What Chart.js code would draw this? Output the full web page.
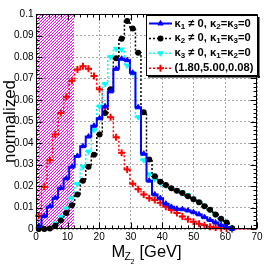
<!DOCTYPE html>
<html>
<head>
<meta charset="utf-8">
<script src="https://cdn.jsdelivr.net/npm/chart.js@4.4.0/dist/chart.umd.min.js"></script>
<style>
html, body { margin: 0; padding: 0; background: #fff; }
</style>
</head>
<body>
<canvas id="c" width="273" height="264"></canvas>
<script>
// bin centres, GeV (40 bins of 1.75 GeV)
let bins = [0.875, 2.625, 4.375, 6.125, 7.875, 9.625, 11.375, 13.125, 14.875, 16.625,
            18.375, 20.125, 21.875, 23.625, 25.375, 27.125, 28.875, 30.625, 32.375, 34.125,
            35.875, 37.625, 39.375, 41.125, 42.875, 44.625, 46.375, 48.125, 49.875, 51.625,
            53.375, 55.125, 56.875, 58.625, 60.375, 62.125, 63.875, 65.625, 67.375, 69.125];

// kappa1 != 0 (blue, solid)
let kappa1 = [0.0015, 0.006, 0.0105, 0.0145, 0.019, 0.0235, 0.029, 0.034, 0.0385, 0.043,
              0.048, 0.0515, 0.057, 0.064, 0.0745, 0.0792, 0.0785, 0.0727, 0.0566, 0.035,
              0.0225, 0.0161, 0.0143, 0.0118, 0.0103, 0.0094, 0.0092, 0.0086, 0.0078, 0.0068,
              0.0055, 0.0042, 0.003, 0.0018, 0.0008, 0.0001];
// kappa2 != 0 (black, dotted)
let kappa2 = [0, 0, 0.0002, 0.0015, 0.004, 0.0075, 0.011, 0.016, 0.0225, 0.029,
              0.0345, 0.044, 0.054, 0.065, 0.0794, 0.0885, 0.0967, 0.0933, 0.082, 0.0543,
              0.0323, 0.0245, 0.022, 0.0205, 0.019, 0.0178, 0.0167, 0.0152, 0.0138, 0.0124,
              0.0106, 0.009, 0.0068, 0.0048, 0.003, 0.0004];
// kappa3 != 0 (cyan, dotted)
let kappa3 = [0, 0, 0.0005, 0.0025, 0.0055, 0.0095, 0.0145, 0.021, 0.029, 0.036,
              0.046, 0.057, 0.0675, 0.08, 0.0838, 0.0835, 0.076, 0.0725, 0.052, 0.032,
              0.0255, 0.0232, 0.0215, 0.0202, 0.019, 0.018, 0.0171, 0.0157, 0.0142, 0.0125,
              0.0108, 0.0088, 0.0065, 0.0042, 0.0022, 0.0003];
// (1.80,5.00,0.08) benchmark (red, dotted)
let bench = [0.0062, 0.0197, 0.032, 0.044, 0.054, 0.0615, 0.069, 0.0742, 0.0757, 0.0745,
             0.0712, 0.065, 0.0566, 0.052, 0.0427, 0.0355, 0.0277, 0.021, 0.0185, 0.016,
             0.0143, 0.0135, 0.0122, 0.0104, 0.0088, 0.0074, 0.0058, 0.0045, 0.0034, 0.0025,
             0.0017, 0.0011, 0.0007, 0.0004, 0.0002, 0, 0, 0, 0, 0];

let xTicks = [0, 10, 20, 30, 40, 50, 60, 70];
let yTicks = [0, 0.01, 0.02, 0.03, 0.04, 0.05, 0.06, 0.07, 0.08, 0.09, 0.1];
let yTickLabels = ['0', '0.01', '0.02', '0.03', '0.04', '0.05', '0.06', '0.07', '0.08', '0.09', '0.1'];
let hatchMax = 12; // GeV, shaded region

// legend text pieces, 's' = subscript
let legendText = [
    [['κ'], ['1', 's'], [' ≠ 0, κ'], ['2', 's'], ['=κ'], ['3', 's'], ['=0']],
    [['κ'], ['2', 's'], [' ≠ 0, κ'], ['1', 's'], ['=κ'], ['3', 's'], ['=0']],
    [['κ'], ['3', 's'], [' ≠ 0, κ'], ['1', 's'], ['=κ'], ['2', 's'], ['=0']],
    [['(1.80,5.00,0.08)']]
];

let FONT = '"Liberation Sans", Arial, Helvetica, sans-serif';

function pts(vals) {
    return vals.map((v, i) => ({x: bins[i], y: v}));
}

let sets = [
    {data: pts(kappa1), borderColor: '#0000ff', backgroundColor: '#0000ff', borderWidth: 2,
     pointStyle: 'triangle', pointRadius: 3, pointBorderWidth: 1},
    {data: pts(kappa2), borderColor: '#000000', backgroundColor: '#000000', borderWidth: 1.5,
     borderDash: [2, 2], pointStyle: 'circle', pointRadius: 3, pointBorderWidth: 0},
    {data: pts(kappa3), borderColor: '#00ffff', backgroundColor: '#00ffff', borderWidth: 1.5,
     borderDash: [2, 2], pointStyle: 'triangle', pointRotation: 180, pointRadius: 3, pointBorderWidth: 1},
    {data: pts(bench), borderColor: '#ff0000', backgroundColor: '#ff0000', borderWidth: 1.5,
     borderDash: [2, 2], pointStyle: 'cross', pointBorderWidth: 2,
     pointRadius: (c) => c.dataIndex > 35 ? 0 : 3.5}
];
sets.forEach(s => { s.stepped = 'middle'; s.fill = false; s.clip = false; });

function rich(ctx, parts, x, y, size) {
    for (let p of parts) {
        let sub = p[1] === 's';
        ctx.font = 'bold ' + (sub ? Math.round(size * 0.68) : size) + 'px ' + FONT;
        ctx.fillText(p[0], x, y + (sub ? size * 0.25 : 0));
        x += ctx.measureText(p[0]).width;
    }
}

let rootFrame = {
    id: 'rootFrame',
    beforeDatasetsDraw(chart) {
        // magenta hatched band 0..hatchMax
        let ctx = chart.ctx, a = chart.chartArea, x = chart.scales.x;
        let x0 = x.getPixelForValue(0), x1 = x.getPixelForValue(hatchMax);
        let h = a.bottom - a.top;
        ctx.save();
        ctx.beginPath();
        ctx.rect(x0, a.top, x1 - x0, h);
        ctx.clip();
        ctx.strokeStyle = '#ff00ff';
        ctx.lineWidth = 1;
        ctx.beginPath();
        for (let d = -h; d < x1 - x0 + h; d += 3) {
            ctx.moveTo(x0 + d, a.bottom);
            ctx.lineTo(x0 + d + h, a.top);
        }
        ctx.stroke();
        ctx.restore();
    },
    afterDraw(chart) {
        let ctx = chart.ctx, a = chart.chartArea, xs = chart.scales.x, ys = chart.scales.y;
        ctx.save();
        ctx.strokeStyle = '#000';
        ctx.lineWidth = 1;
        let L = Math.round(a.left) + 0.5, R = Math.round(a.right) - 0.5;
        let T = Math.round(a.top) + 0.5, B = Math.round(a.bottom) - 0.5;
        ctx.strokeRect(L, T, R - L, B - T);

        // ticks on all four sides
        ctx.beginPath();
        for (let v = 0; v <= 70.001; v += 2) {
            let px = Math.round(xs.getPixelForValue(v)) + 0.5;
            let len = (v % 10 === 0) ? 6 : 3;
            ctx.moveTo(px, B); ctx.lineTo(px, B - len);
            ctx.moveTo(px, T); ctx.lineTo(px, T + len);
        }
        for (let i = 0; i <= 50; i++) {
            let py = Math.round(ys.getPixelForValue(i * 0.002)) + 0.5;
            let len = (i % 5 === 0) ? 6 : 3;
            ctx.moveTo(L, py); ctx.lineTo(L + len, py);
            ctx.moveTo(R, py); ctx.lineTo(R - len, py);
        }
        ctx.stroke();

        // tick labels
        ctx.fillStyle = '#000';
        ctx.font = '10px ' + FONT;
        ctx.textAlign = 'right';
        ctx.textBaseline = 'middle';
        yTicks.forEach((v, i) => ctx.fillText(yTickLabels[i], a.left - 2.5, ys.getPixelForValue(v)));
        ctx.textAlign = 'center';
        ctx.textBaseline = 'top';
        xTicks.forEach(v => ctx.fillText(String(v), xs.getPixelForValue(v), 232));

        // x title with nested subscripts
        ctx.textAlign = 'left';
        ctx.textBaseline = 'alphabetic';
        ctx.font = '16.5px ' + FONT;
        ctx.fillText('M', 111.5, 256.5);
        ctx.font = '10.5px ' + FONT;
        ctx.fillText('Z', 124.5, 259.5);
        ctx.font = '7px ' + FONT;
        ctx.fillText('2', 130.5, 264);
        ctx.font = '16.5px ' + FONT;
        ctx.fillText('[GeV]', 139.5, 256.5);

        // legend box
        let bx = 146, by = 15, bw = 112, bh = 61;
        ctx.fillStyle = '#000';
        ctx.fillRect(bx + 2, by + bh, bw, 1.5);
        ctx.fillRect(bx + bw, by + 2, 1.5, bh);
        ctx.fillStyle = '#fff';
        ctx.fillRect(bx, by, bw, bh);
        ctx.strokeRect(bx + 0.5, by + 0.5, bw - 1, bh - 1);

        sets.forEach((s, i) => {
            let cy = 23.5 + i * 14.9;
            ctx.save();
            ctx.strokeStyle = s.borderColor;
            ctx.lineWidth = s.borderWidth;
            ctx.setLineDash(s.borderDash || []);
            ctx.beginPath();
            ctx.moveTo(149, cy); ctx.lineTo(172, cy);
            ctx.stroke();
            ctx.setLineDash([]);
            ctx.fillStyle = s.backgroundColor;
            ctx.strokeStyle = s.borderColor;
            ctx.lineWidth = s.pointBorderWidth;
            Chart.helpers.drawPoint(ctx, {
                pointStyle: s.pointStyle, rotation: s.pointRotation || 0,
                radius: typeof s.pointRadius === 'number' ? s.pointRadius : 3.5,
                borderWidth: s.pointBorderWidth
            }, 160.5, cy);
            ctx.restore();
            ctx.fillStyle = '#000';
            ctx.textAlign = 'left';
            ctx.textBaseline = 'middle';
            rich(ctx, legendText[i], 174.5, cy, 11.2);
        });
        ctx.restore();
    }
};

new Chart(document.getElementById('c'), {
    type: 'line',
    data: {datasets: sets},
    options: {
        responsive: false,
        animation: false,
        layout: {padding: {left: 0, top: 14, right: 16, bottom: 35}},
        plugins: {legend: {display: false}, tooltip: {enabled: false}},
        scales: {
            x: {type: 'linear', min: 0, max: 70,
                ticks: {display: false, stepSize: 10},
                grid: {color: '#a8a8a8', lineWidth: 1, drawTicks: false},
                border: {display: false, dash: [2, 2]}},
            y: {min: 0, max: 0.1,
                ticks: {display: false, stepSize: 0.01},
                grid: {color: '#a8a8a8', lineWidth: 1, drawTicks: false},
                border: {display: false, dash: [2, 2]},
                title: {display: true, text: 'normalized', color: '#000',
                        font: {family: FONT, size: 17, lineHeight: 1.2},
                        padding: {top: 0, bottom: 15.6}}}
        }
    },
    plugins: [rootFrame]
});
</script>
</body>
</html>
